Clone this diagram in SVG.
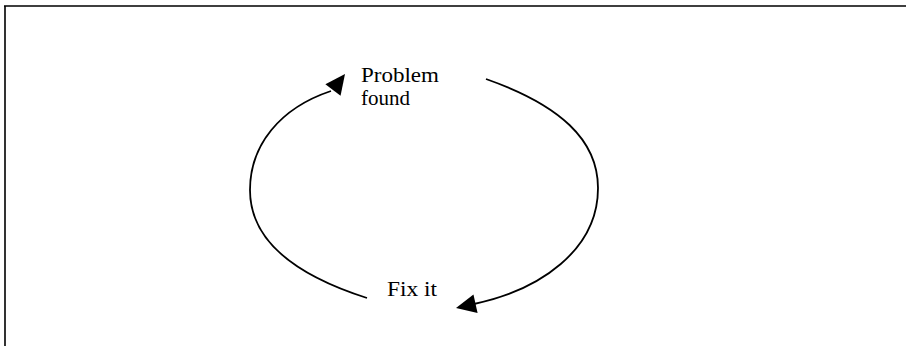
<svg xmlns="http://www.w3.org/2000/svg" xmlns:xlink="http://www.w3.org/1999/xlink" width="906" height="346" viewBox="0 0 906 346">
<style>
.frame{fill:none;stroke:#000;stroke-width:1.6}
.arc{fill:none;stroke:#000;stroke-width:1.8}
.lbl{font-family:"Liberation Serif","Times New Roman",serif;font-size:21px;fill:#000}
</style>
<defs>
<path id="ah" d="M0,0 L-20,-9.5 L-20,9.5 Z" fill="#000"/>
</defs>
<rect width="906" height="346" fill="#fff"/>
<path class="frame" d="M4,6 H906 M5,6 V346"/>
<g id="connectors">
<path class="arc" d="M486,79 C560,105 598,140 598,188 C598,250 540,290 474,304"/>
<use xlink:href="#ah" href="#ah" transform="translate(456,308) rotate(167.5)"/>
<path class="arc" d="M367,298 C295,275 250,240 250,190 C250,145 280,108 331,91"/>
<use xlink:href="#ah" href="#ah" transform="translate(345,74) rotate(-53)"/>
</g>
<g id="problem-found">
<text class="lbl" x="361" y="82" textLength="78" lengthAdjust="spacingAndGlyphs">Problem</text>
<text class="lbl" x="361" y="105">found</text>
</g>
<g id="fix-it">
<text class="lbl" x="387" y="296" textLength="50" lengthAdjust="spacingAndGlyphs">Fix it</text>
</g>
</svg>
